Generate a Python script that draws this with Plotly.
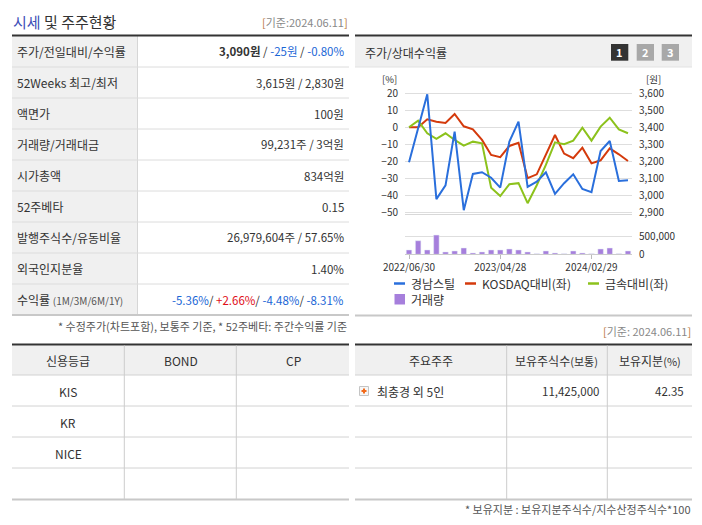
import plotly.graph_objects as go

# 페이지 좌표(702x525) 기준으로 배치, body 기본 여백 8px 만큼 보정
OFF = 8
W, H = 702 - 2 * OFF, 525 - 2 * OFF

# 주가/상대수익률 차트 데이터 (월말)
dates = ["2022/06/30", "2022/07/29", "2022/08/31", "2022/09/30", "2022/10/31", "2022/11/30",
         "2022/12/29", "2023/01/31", "2023/02/28", "2023/03/31", "2023/04/28", "2023/05/31",
         "2023/06/30", "2023/07/31", "2023/08/31", "2023/09/27", "2023/10/31", "2023/11/30",
         "2023/12/28", "2024/01/31", "2024/02/29", "2024/03/29", "2024/04/30", "2024/05/31",
         "2024/06/11"]
price = [3195, 3400, 3593, 2980, 3060, 3375, 2915, 3127, 3137, 3105, 3047, 3316, 3433,
         3051, 3082, 3137, 3010, 3073, 3125, 3039, 3020, 3261, 3320, 3086, 3090]
kosdaq_rel = [0, 0, 4.7, 3.3, 2.5, 7.8, 0.6, -1.2, -7.4, -16.2, -17.5, -10.9, -9.0,
              -29.8, -27.5, -16.0, -4.5, -15.4, -18.1, -11.9, -21.1, -19.3, -12.3, -15.8, -19.7]
metal_rel = [0, 3.9, -3.5, -6.8, -3.5, -7.4, -10.7, -8.4, -9.4, -35.3, -40.2, -33.3, -32.7,
             -44.4, -33.9, -22.0, -8.8, -9.9, -7.8, -0.2, -7.8, 0.4, 5.6, -1.2, -3.5]
volume = [123000, 386000, 123000, 546000, 66000, 94000, 179000, 38000, 66000, 123000, 123000,
          151000, 123000, 66000, 19000, 94000, 38000, 19000, 94000, 38000, 19000, 151000,
          179000, 19000, 94000]
date_ticks = [dates[0], dates[10], dates[20]]
pct_ticks = [20, 10, 0, -10, -20, -30, -40, -50]
won_ticks = [3600, 3500, 3400, 3300, 3200, 3100, 3000, 2900]

# 시세 표
base_date = "2024.06.11"
row_labels = ["주가/전일대비/수익률", "52Weeks 최고/최저", "액면가", "거래량/거래대금", "시가총액",
              "52주베타", "발행주식수/유동비율", "외국인지분율", "수익률"]
cur_price, change, change_pct = "3,090원", "-25원", "-0.80%"
hi52, lo52 = "3,615원", "2,830원"
face_value = "100원"
trade_vol, trade_amt = "99,231주", "3억원"
market_cap = "834억원"
beta52 = "0.15"
shares, float_ratio = "26,979,604주", "57.65%"
foreign_ratio = "1.40%"
returns = ["-5.36%", "+2.66%", "-4.48%", "-8.31%"]

# 신용등급 / 주요주주
credit_cols = ["신용등급", "BOND", "CP"]
credit_rows = ["KIS", "KR", "NICE", ""]
holder_cols = ["주요주주", "보유주식수<span style='font-size:11px'>(보통)</span>",
               "보유지분<span style='font-size:11px'>(%)</span>"]
holders = [("최충경 외 5인", "11,425,000", "42.35")]

BLUE_TXT = "#1a66d6"
RED_TXT = "#e0101a"
DARK = "#333333"
GRID = "#dedede"
FONT = "Noto Sans CJK KR, Noto Sans, sans-serif"


def X(p):
    return (p - OFF) / W


def Y(p):
    return 1 - (p - OFF) / H


shapes = []
annots = []


def hline(x0, x1, y, color, width=1):
    shapes.append(dict(type="line", xref="paper", yref="paper", x0=X(x0), x1=X(x1),
                       y0=Y(y), y1=Y(y), line=dict(color=color, width=width)))


def vline(x, y0, y1, color, width=1):
    shapes.append(dict(type="line", xref="paper", yref="paper", x0=X(x), x1=X(x),
                       y0=Y(y0), y1=Y(y1), line=dict(color=color, width=width)))


def box(x0, y0, x1, y1, fill, line_color=None):
    shapes.append(dict(type="rect", xref="paper", yref="paper", x0=X(x0), x1=X(x1),
                       y0=Y(y1), y1=Y(y0), fillcolor=fill, layer="below",
                       line=dict(width=1 if line_color else 0, color=line_color or fill)))


def text(x, y, s, size=12, color=DARK, anchor="left", pad=1):
    annots.append(dict(xref="paper", yref="paper", x=X(x), y=Y(y), text=s, showarrow=False,
                       xanchor=anchor, yanchor="middle", borderpad=pad,
                       font=dict(size=size, color=color)))


def blue(s):
    return f"<span style='color:{BLUE_TXT}'>{s}</span>"


def red(s):
    return f"<span style='color:{RED_TXT}'>{s}</span>"


def signed(s):
    return red(s) if s.startswith("+") else blue(s)


# ---- 제목
text(11, 21.5, "<span style='color:#3d4fb8'>시세</span> 및 주주현황", size=15)
text(350, 21.5, f"<span style='color:#b8763a'>[</span>기준:{base_date}<span style='color:#b8763a'>]</span>",
     size=11, color="#888", anchor="right")

# ---- 시세 표
top, rh = 36, 31
box(12, top, 137.5, top + rh * 9, "#f0f0f0")
vline(137.5, top, top + rh * 9, "#d6d6d6")
for i in range(1, 9):
    hline(12, 349, top + rh * i, "#dcdcdc")
hline(12, 349, 35.5, DARK, 2)
hline(12, 349, top + rh * 9, "#c8c8c8", 2)

values = [
    f"<b>{cur_price}</b> / {blue(change)} / {blue(change_pct)}",
    f"{hi52} / {lo52}",
    face_value,
    f"{trade_vol} / {trade_amt}",
    market_cap,
    beta52,
    f"{shares} / {float_ratio}",
    foreign_ratio,
    "/ ".join(signed(r) for r in returns),
]
for i, (lab, val) in enumerate(zip(row_labels, values)):
    yc = top + rh * i + rh / 2
    if lab == "수익률":
        lab = lab + " <span style='font-size:10px;color:#555'>(1M/3M/6M/1Y)</span>"
    text(15, yc, lab)
    text(346, yc, val, size=11.5, anchor="right")
text(349, 325.5, "* 수정주가(차트포함), 보통주 기준, * 52주베타: 주간수익률 기준", size=11,
     color="#555", anchor="right")

# ---- 차트 패널
hline(355, 692, 35.5, DARK, 2)
box(355, 36.5, 692, 67, "#f0f0f0")
hline(355, 692, 67, "#e2e2e2")
hline(355, 692, 315.5, "#c8c8c8", 2)
text(363, 52, "주가/상대수익률")
for j, (x0, fill) in enumerate([(611, "#333333"), (636.7, "#a8a8a8"), (661.7, "#a8a8a8")]):
    box(x0, 44, x0 + 17.3, 60.7, fill)
    text(x0 + 8.7, 52.3, f"<b>{j + 1}</b>", size=11, color="white", anchor="center")
text(398, 79, "[%]", size=9.5, anchor="right", pad=0)
text(645, 79, "[원]", size=9.5, pad=0)

# 범례
leg = [(394, 283.5, "#2a6fdc", "경남스틸"), (465, 283.5, "#d43a0c", "KOSDAQ대비(좌)"),
       (588, 283.5, "#8cc21c", "금속대비(좌)")]
for lx, ly, col, name in leg:
    shapes.append(dict(type="line", xref="paper", yref="paper", x0=X(lx), x1=X(lx + 11),
                       y0=Y(ly), y1=Y(ly), line=dict(color=col, width=2.5)))
    text(lx + 15, ly, name, size=12)
box(394.5, 294, 405, 304.5, "#a67fdc")
text(409, 299.5, "거래량", size=12)

# ---- 신용등급 표
hline(12, 349, 344.5, DARK, 2)
box(12, 345.5, 349, 375, "#f0f0f0")
for yy in [375, 406, 437, 468]:
    hline(12, 349, yy, "#d2d2d2")
hline(12, 349, 499.5, "#c8c8c8", 2)
for xx in [124.3, 236.3]:
    vline(xx, 345.5, 499, "#cccccc")
for xc, c in zip([68.3, 181, 293.3], credit_cols):
    text(xc, 360.5, c, anchor="center")
for i, r in enumerate(credit_rows):
    text(68.3, 391 + 31 * i, r, anchor="center")

# ---- 주요주주 표
text(693, 330.5, f"<span style='color:#b8763a'>[</span>기준: {base_date}<span style='color:#b8763a'>]</span>",
     size=11, color="#888", anchor="right")
hline(355, 692, 344.5, DARK, 2)
box(355, 345.5, 692, 375, "#f0f0f0")
for yy in [375, 406, 437, 468]:
    hline(355, 692, yy, "#d2d2d2")
hline(355, 692, 499.5, "#c8c8c8", 2)
for xx in [506.7, 607.3]:
    vline(xx, 345.5, 499, "#cccccc")
for xc, c in zip([430.7, 556.7, 650], holder_cols):
    text(xc, 360.5, c, anchor="center")
for i, (name, cnt, pct) in enumerate(holders):
    yc = 391 + 31 * i
    box(359.5, yc - 4.5, 368.5, yc + 4.5, "#f6f6f6", "#c4c4c4")
    hline(361.5, 366.5, yc, "#f26a1b", 2)
    vline(364, yc - 2.5, yc + 2.5, "#f26a1b", 2)
    text(375, yc, name)
    text(601, yc, cnt, size=11.5, anchor="right")
    text(686, yc, pct, size=11.5, anchor="right")
text(693, 508.5, "* 보유지분 : 보유지분주식수/지수산정주식수*100", size=11, color="#555", anchor="right")

# ---- traces
fig = go.Figure()
fig.add_trace(go.Bar(x=dates, y=volume, marker_color="#a67fdc", width=0.6,
                     xaxis="x2", yaxis="y3", name="거래량"))
fig.add_trace(go.Scatter(x=dates, y=price, mode="lines", line=dict(color="#2a6fdc", width=2),
                         xaxis="x", yaxis="y2", name="경남스틸"))
fig.add_trace(go.Scatter(x=dates, y=kosdaq_rel, mode="lines", line=dict(color="#d43a0c", width=2),
                         xaxis="x", yaxis="y", name="KOSDAQ대비(좌)"))
fig.add_trace(go.Scatter(x=dates, y=metal_rel, mode="lines", line=dict(color="#8cc21c", width=2),
                         xaxis="x", yaxis="y", name="금속대비(좌)"))

xdom = [X(405), X(632)]
xr = [-0.44, len(dates) - 1 + 0.44]
tickfont = dict(size=10, color=DARK)
fig.update_layout(
    width=W, height=H, margin=dict(l=0, r=0, t=0, b=0, autoexpand=False),
    paper_bgcolor="white", plot_bgcolor="white",
    font=dict(family=FONT, size=12, color=DARK),
    showlegend=False,
    shapes=shapes, annotations=annots,
    xaxis=dict(domain=xdom, anchor="y", type="category", range=xr, showticklabels=False,
               showgrid=False, zeroline=False, showline=True, linecolor="#d8d8d8", ticks="",
               automargin=False),
    yaxis=dict(domain=[Y(214.3), Y(92.1)], range=[-50.9, 20.6], tickvals=pct_ticks,
               gridcolor=GRID, zeroline=False, tickfont=tickfont, ticklabelstandoff=6,
               showline=False, automargin=False),
    yaxis2=dict(overlaying="y", side="right", anchor="x", range=[2891, 3606],
                tickvals=won_ticks, tickformat=",", showgrid=False, zeroline=False,
                tickfont=tickfont, ticklabelstandoff=6, automargin=False),
    xaxis2=dict(domain=xdom, anchor="y3", type="category", range=xr, tickvals=date_ticks,
                ticks="outside", ticklen=4, tickcolor="#bbbbbb", showline=True,
                linecolor="#cccccc", showgrid=False, tickfont=tickfont, automargin=False),
    yaxis3=dict(domain=[Y(254.3), Y(232.5)], anchor="x2", side="right", range=[0, 620000],
                tickvals=[0, 500000], tickformat=",", gridcolor=GRID, zeroline=False,
                tickfont=tickfont, ticklabelstandoff=6, automargin=False),
)

fig.write_html("out.html")
